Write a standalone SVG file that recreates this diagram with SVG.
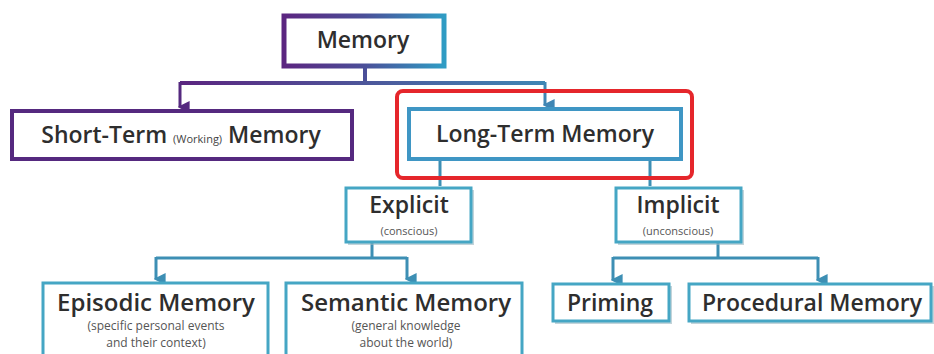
<svg xmlns="http://www.w3.org/2000/svg" width="934" height="354" viewBox="0 0 934 354">
<defs>
<linearGradient id="gMem" x1="0" y1="0" x2="1" y2="0">
<stop offset="0" stop-color="#5b2580"/>
<stop offset="0.5" stop-color="#4b4f98"/>
<stop offset="1" stop-color="#2f9cc4"/>
</linearGradient>
<linearGradient id="gLine" gradientUnits="userSpaceOnUse" x1="180" y1="0" x2="545" y2="0">
<stop offset="0" stop-color="#5b2580"/>
<stop offset="1" stop-color="#3f86b4"/>
</linearGradient>
<marker id="arT" viewBox="0 0 10 10" refX="5" refY="8" markerWidth="4" markerHeight="4" orient="auto-start-reverse" markerUnits="strokeWidth">
<path d="M0,0 L10,0 L5,10 z" fill="#3d8fb4"/>
</marker>
<marker id="arP" viewBox="0 0 10 10" refX="5" refY="8" markerWidth="4" markerHeight="4" orient="auto-start-reverse" markerUnits="strokeWidth">
<path d="M0,0 L10,0 L5,10 z" fill="#55297f"/>
</marker>
<marker id="arB" viewBox="0 0 10 10" refX="5" refY="8" markerWidth="4" markerHeight="4" orient="auto-start-reverse" markerUnits="strokeWidth">
<path d="M0,0 L10,0 L5,10 z" fill="#3f86b4"/>
</marker>
</defs>
<style>
.t{font-family:"Open Sans","Liberation Sans",sans-serif;font-weight:600;fill:#2e2e2e;text-anchor:middle}
.s{font-family:"Open Sans","Liberation Sans",sans-serif;font-weight:400;fill:#555;text-anchor:middle}
.box{fill:#fff;stroke:#45a6c4;stroke-width:3}
.sh{fill:#9bb7c2;opacity:0.6}
.ln{fill:none;stroke:#3d8fb4;stroke-width:3}
</style>
<rect width="934" height="354" fill="#fff"/>

<g id="connectors">
<path d="M365,67 V83" stroke="#4b4f98" stroke-width="4" fill="none"/>
<path d="M180,83 H545" stroke="url(#gLine)" stroke-width="4" fill="none"/>
<path d="M180,82 V107" stroke="#55297f" stroke-width="3" fill="none" marker-end="url(#arP)"/>
<path d="M545,82 V105" stroke="#3f86b4" stroke-width="3" fill="none" marker-end="url(#arB)"/>
<path class="ln" d="M440,160 V186"/>
<path class="ln" d="M650,160 V186"/>
<path class="ln" d="M372,243 V258 M156,258 H407"/>
<path class="ln" d="M156,257 V279" marker-end="url(#arT)"/>
<path class="ln" d="M407,257 V279" marker-end="url(#arT)"/>
<path class="ln" d="M718,243 V258 M613,258 H818"/>
<path class="ln" d="M613,257 V280" marker-end="url(#arT)"/>
<path class="ln" d="M818,257 V280" marker-end="url(#arT)"/>
</g>

<g id="node-memory">
<rect x="284" y="16" width="160" height="50" fill="#fff" stroke="url(#gMem)" stroke-width="5"/>
<text class="t" x="363" y="48" font-size="23">Memory</text>
</g>

<g id="node-short-term">
<rect x="12" y="111" width="340" height="48" fill="#fff" stroke="#55297f" stroke-width="4"/>
<text class="t" x="181" y="143" font-size="23">Short-Term <tspan font-size="11" font-weight="400" fill="#444">(Working)</tspan> Memory</text>
</g>

<g id="node-highlight">
<rect x="397" y="91" width="295" height="87" rx="6" fill="none" stroke="#e5262b" stroke-width="4"/>
</g>

<g id="node-long-term">
<rect x="409" y="109" width="272" height="50" fill="#fff" stroke="#3f96c4" stroke-width="4"/>
<text class="t" x="545" y="142" font-size="23">Long-Term Memory</text>
</g>

<g id="node-explicit">
<rect class="sh" x="348" y="190" width="126" height="55"/>
<rect class="box" x="346" y="188" width="125" height="54"/>
<text class="t" x="409" y="213" font-size="23">Explicit</text>
<text class="s" x="409" y="235" font-size="11">(conscious)</text>
</g>

<g id="node-implicit">
<rect class="sh" x="618" y="190" width="126" height="55"/>
<rect class="box" x="616" y="188" width="125" height="54"/>
<text class="t" x="678" y="213" font-size="23">Implicit</text>
<text class="s" x="678" y="235" font-size="11">(unconscious)</text>
</g>

<g id="node-episodic">
<rect class="box" x="43" y="283" width="225" height="80"/>
<text class="t" x="156" y="311" font-size="24">Episodic Memory</text>
<text class="s" x="156" y="330" font-size="12">(specific personal events</text>
<text class="s" x="156" y="347" font-size="12">and their context)</text>
</g>

<g id="node-semantic">
<rect class="box" x="286" y="283" width="236" height="80"/>
<text class="t" x="406" y="311" font-size="24">Semantic Memory</text>
<text class="s" x="406" y="330" font-size="12">(general knowledge</text>
<text class="s" x="406" y="347" font-size="12">about the world)</text>
</g>

<g id="node-priming">
<rect class="sh" x="555" y="286" width="117" height="38"/>
<rect class="box" x="553" y="284" width="116" height="37"/>
<text class="t" x="610" y="311" font-size="23">Priming</text>
</g>

<g id="node-procedural">
<rect class="sh" x="691" y="286" width="243" height="38"/>
<rect class="box" x="689" y="284" width="242" height="37"/>
<text class="t" x="812" y="311" font-size="23">Procedural Memory</text>
</g>
</svg>
